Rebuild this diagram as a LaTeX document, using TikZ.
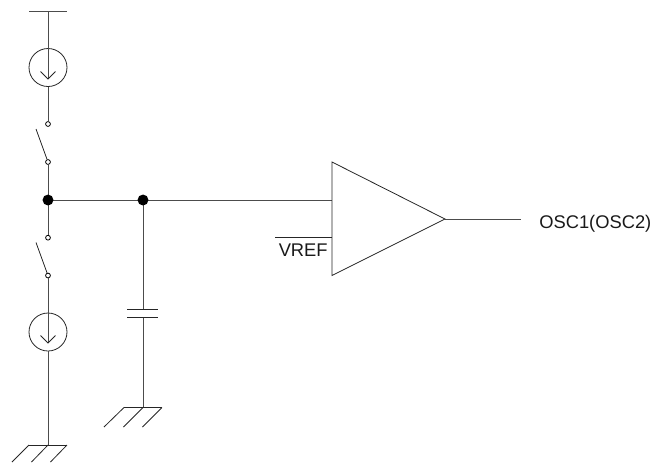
\documentclass[tikz,border=0pt]{standalone}
\usepackage{fontspec}
\setmainfont{Liberation Sans}
\begin{document}
\begin{tikzpicture}[x=0.75pt,y=-0.75pt,
  wire/.style={draw=black!70,line width=0.75pt},
  thin wire/.style={draw=black!85,line width=0.6pt},
  dotnode/.style={circle,fill=black,inner sep=0pt,minimum size=8.2pt},
  contact/.style={circle,draw=black,fill=white,line width=0.6pt,inner sep=0pt,minimum size=3.6pt},
  source/.style={circle,draw=black!85,line width=0.6pt,inner sep=0pt,minimum size=28.5pt},
  lab/.style={inner sep=0pt,font=\fontsize{13.75pt}{15pt}\selectfont,text=black!90}]
\useasboundingbox (0,0) rectangle (653,462);
% points
\coordinate (top) at (48,11);
\coordinate (topL) at (29,11);
\coordinate (topR) at (67,11);
\node[source] (s1) at (48,67.5) {};
\node[source] (s2) at (48,332) {};
\node[contact] (c1) at (48,124) {};
\node[contact] (c2) at (48,162) {};
\node[contact] (c3) at (48,237.7) {};
\node[contact] (c4) at (48,275.5) {};
\coordinate (b1) at (36,129);
\coordinate (b2) at (36,242.5);
\coordinate (g1) at (48,445);
\coordinate (g1L) at (29,445);
\coordinate (g1R) at (67,445);
\coordinate (g2) at (143,407.5);
\coordinate (g2L) at (124,407.5);
\coordinate (g2R) at (162,407.5);
\coordinate (p1) at (143,309.5);
\coordinate (p2) at (143,317);
\coordinate (p1L) at (127,309.5);
\coordinate (p1R) at (158,309.5);
\coordinate (p2L) at (127,317);
\coordinate (p2R) at (158,317);
\coordinate (ta) at (332,162);
\coordinate (tb) at (332,275.5);
\coordinate (tc) at (445,219);
\coordinate (in) at (332,200);
\coordinate (ref) at (332,237.5);
\coordinate (refL) at (275,237.5);
\coordinate (out) at (521,219);
% wires
\draw[wire] (topL) -- (topR);
\draw[wire] (top) -- (48,79);
\draw[wire] (s1.south) -- (c1.north);
\draw[wire] (c2.south) -- (c3.north);
\draw[wire] (c4.south) -- (48,343);
\draw[wire] (s2.south) -- (g1);
\draw[wire] (48,200) -- (in);
\draw[wire] (143,200) -- (p1);
\draw[wire] (p2) -- (g2);
\draw[wire] (tc) -- (out);
\draw[thin wire] (refL) -- (ref);
% arrows in sources
\draw[thin wire] (40.5,71.5) -- (48,79) -- (55.5,71.5);
\draw[thin wire] (40.5,335.5) -- (48,343) -- (55.5,335.5);
% switch blades
\draw[thin wire] (b1) -- (c2);
\draw[thin wire] (b2) -- (c4);
% capacitor
\draw[thin wire] (p1L) -- (p1R);
\draw[thin wire] (p2L) -- (p2R);
% grounds
\draw[thin wire] (g1L) -- (g1R);
\draw[thin wire] (g1L) -- (12,462);
\draw[thin wire] (g1) -- (31.5,462);
\draw[thin wire] (g1R) -- (50.5,462);
\draw[thin wire] (g2L) -- (g2R);
\draw[thin wire] (g2L) -- (104,427);
\draw[thin wire] (g2) -- (123.5,427);
\draw[thin wire] (g2R) -- (142.5,427);
% amp
\draw[thin wire,fill=none] (ta) -- (tb) -- (tc) -- cycle;
% dots
\node[dotnode] (d1) at (48,200) {};
\node[dotnode] (d2) at (143,200) {};
% labels
\node[lab,anchor=base west] (vref) at (278.5,256) {VREF};
\node[lab,anchor=base west] (osc) at (539,228) {OSC1(OSC2)};
\end{tikzpicture}
\end{document}
